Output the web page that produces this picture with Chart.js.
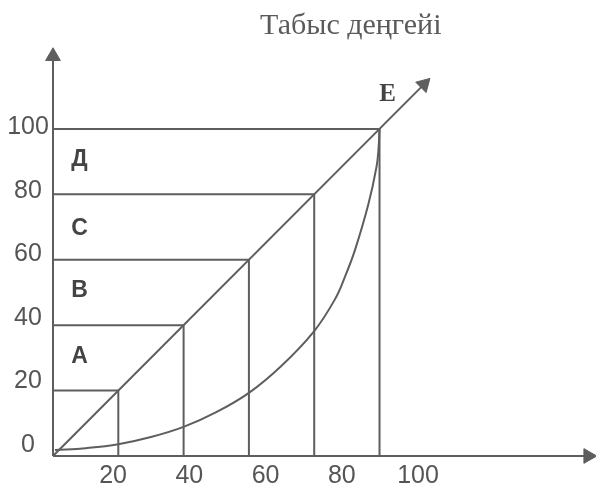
<!DOCTYPE html>
<html>
<head>
<script src="https://cdn.jsdelivr.net/npm/chart.js"></script>
<style>
  html, body { margin: 0; padding: 0; background: #fff; }
  #wrap { width: 596px; height: 484px; }
</style>
</head>
<body>
<div id="wrap"><canvas id="lorenz"></canvas></div>
<script>
// Lorenz curve: population share (x) vs income share (y)
const levels = [20, 40, 60, 80, 100];
const xTickLabels = ["20", "40", "60", "80", "100"];
const yTickLabels = ["0", "20", "40", "60", "80", "100"];
const bandLabels = ["А", "В", "С", "Д"];
const bandMid = [31, 51, 70, 91];
const curveX = [0.6, 10, 20, 30, 40, 50, 60, 70, 80, 86.4, 89.5, 92.5, 96.6, 99.1, 99.7, 100];
const curveY = [1.8, 2.4, 3.6, 5.8, 8.9, 13.4, 19.3, 27.6, 38.2, 48, 55, 63, 77, 88.5, 94, 100];
const titleText = "Табыс деңгейі";
const diagLabel = "E";

// axis / arrow geometry (data units)
const X_MAX = 166.3, Y_MAX = 139.4;
const X_END = 163.9, Y_END = 122.2, DIAG_END = 113.6;

const lineColor = '#5e5e5e';

function pts(xs, ys) { return xs.map((x, i) => ({ x: x, y: ys[i] })); }

function arrowLine(data, rot) {
  return {
    data: data,
    showLine: true,
    borderColor: lineColor,
    borderWidth: 2,
    pointRadius: [0, 8.5],
    pointStyle: 'triangle',
    pointRotation: rot,
    pointBackgroundColor: lineColor,
    pointBorderColor: lineColor,
    pointBorderWidth: 1,
    clip: false
  };
}

let datasets = [];
levels.forEach(v => {
  datasets.push({
    data: [{ x: 0, y: v }, { x: v, y: v }, { x: v, y: 0 }],
    showLine: true,
    borderColor: lineColor,
    borderWidth: 2,
    pointRadius: 0,
    clip: false
  });
});
datasets.push({
  data: pts(curveX, curveY),
  showLine: true,
  borderColor: lineColor,
  borderWidth: 2,
  pointRadius: 0,
  tension: 0.4,
  clip: false
});
datasets.push(arrowLine([{ x: 0, y: 0 }, { x: DIAG_END, y: DIAG_END }], 45));
datasets.push(arrowLine([{ x: 0, y: 0 }, { x: 0, y: Y_END }], 0));
datasets.push(arrowLine([{ x: 0, y: 0 }, { x: X_END, y: 0 }], 90));

// tick labels, band letters and title
const textPlugin = {
  id: 'texts',
  afterDraw(chart) {
    const ctx = chart.ctx;
    const x = chart.scales.x, y = chart.scales.y;
    ctx.save();
    ctx.textAlign = 'center';
    ctx.textBaseline = 'alphabetic';

    ctx.fillStyle = '#555';
    ctx.font = '25px "Liberation Sans", Arial, sans-serif';
    yTickLabels.forEach(t => {
      const v = Number(t);
      ctx.fillText(t, x.left - 25, y.getPixelForValue(v * 0.972 + 4) + 9);
    });
    xTickLabels.forEach(t => {
      const v = Number(t);
      ctx.fillText(t, x.getPixelForValue(v * 1.1675 - 4.95), y.bottom + 27);
    });

    ctx.fillStyle = '#444';
    ctx.font = 'bold 23px "Liberation Sans", Arial, sans-serif';
    bandLabels.forEach((t, i) => {
      ctx.fillText(t, x.getPixelForValue(8.1), y.getPixelForValue(bandMid[i]) + 8);
    });

    ctx.font = 'bold 25px "Liberation Serif", "Times New Roman", serif';
    ctx.fillText(diagLabel, x.getPixelForValue(102.5), y.getPixelForValue(111) + 8.5);

    ctx.fillStyle = '#5a5a5a';
    ctx.font = '30px "Liberation Serif", "Times New Roman", serif';
    ctx.fillText(titleText, x.getPixelForValue(91.2), 34);
    ctx.restore();
  }
};

new Chart(document.getElementById('lorenz'), {
  type: 'scatter',
  data: { datasets: datasets },
  options: {
    responsive: true,
    maintainAspectRatio: false,
    animation: false,
    layout: { autoPadding: false, padding: { left: 53, right: 0, top: 0, bottom: 28 } },
    scales: {
      x: { type: 'linear', min: 0, max: X_MAX, display: false },
      y: { type: 'linear', min: 0, max: Y_MAX, display: false }
    },
    plugins: { legend: { display: false }, tooltip: { enabled: false } }
  },
  plugins: [textPlugin]
});
</script>
</body>
</html>
